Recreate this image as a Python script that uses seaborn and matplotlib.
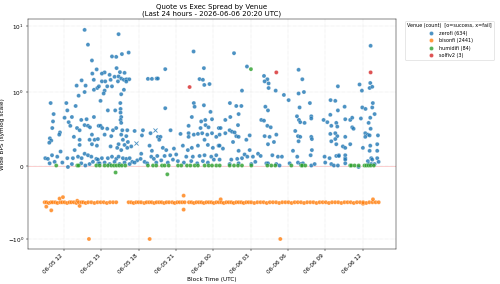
import numpy as np
import pandas as pd
import matplotlib
matplotlib.use("Agg")
import matplotlib.pyplot as plt
import matplotlib.dates as mdates
import seaborn as sns

# hours after 2026-06-05 00:00 UTC, wide spread in bps
START = pd.Timestamp("2026-06-05 00:00")

venues = ["zerofi", "bisonfi", "humidifi", "solfiv2"]
venue_counts = [634, 2441, 84, 3]
venue_colors = ["#1f77b4", "#ff7f0e", "#2ca02c", "#d62728"]

zerofi_ok = [
    (13.66, 8.7), (13.93, 5.2), (14.25, 3.0), (14.28, 1.9), (14.63, 2.2), (14.4, 1.53),
    (13.42, 1.5), (13.02, 1.25), (13.74, 1.25), (14.41, 1.08), (14.68, 1.15), (13.18, 0.95),
    (13.66, 1.0), (10.93, 0.85), (12.19, 0.85), (12.94, 0.81), (11.17, 0.70), (12.27, 0.75),
    (12.05, 0.65), (12.64, 0.66), (13.39, 0.62), (13.82, 0.63), (14.41, 0.66), (11.12, 0.60),
    (12.38, 0.59), (13.66, 0.55), (13.93, 0.54), (11.06, 0.51), (12.51, 0.54), (13.05, 0.51),
    (14.09, 0.52), (14.79, 0.54), (11.68, 0.45), (11.62, 0.42), (13.26, 0.48), (12.8, 0.39),
    (14.25, 0.42), (10.87, 0.37), (10.98, 0.34), (10.82, 0.31), (13.26, 0.35), (14.06, 0.35),
    (14.47, 0.35), (14.73, 0.36), (13.26, 0.28), (14.25, 0.29), (14.65, 0.27), (11.73, 0.19),
    (12.86, 0.21), (13.66, 0.16), (13.93, 0.14), (11.04, 0.14), (10.5, 0.10), (10.71, 0.09),
    (11.46, 0.12), (12.27, 0.10), (12.72, 0.10), (13.13, 0.12), (13.42, 0.10), (14.2, 0.12),
    (14.6, 0.09), (10.85, 0.03), (11.25, 0.05), (11.87, 0.04), (12.32, -0.02), (12.64, 0.02),
    (13.39, 0.03), (13.72, 0.0), (14.06, 0.02), (14.33, 0.05), (14.76, 0.03),
    (16.39, 7.5), (15.86, 3.45), (16.2, 3.4), (16.66, 3.75), (17.2, 3.95), (15.27, 1.98),
    (15.05, 1.9), (16.23, 2.3), (16.5, 2.0), (16.87, 1.95), (15.67, 1.82), (16.07, 1.7),
    (16.39, 1.72), (16.6, 1.6), (16.82, 1.53), (17.03, 1.56), (17.25, 1.56), (15.05, 1.45),
    (15.32, 1.45), (15.75, 1.53), (16.34, 1.45), (17.01, 1.44), (14.81, 1.22), (15.27, 1.05),
    (15.48, 1.22), (15.86, 1.22), (16.82, 1.08), (18.75, 1.58), (19.07, 1.58), (19.45, 1.6),
    (15.19, 0.98), (14.94, 0.88), (16.6, 0.97), (16.53, 0.85), (15.53, 0.75), (16.12, 0.75),
    (16.55, 0.77), (16.55, 0.72), (16.6, 0.66), (16.55, 0.62), (16.6, 0.58), (14.94, 0.54),
    (15.08, 0.51), (15.48, 0.5), (15.94, 0.48), (16.2, 0.51), (16.69, 0.48), (17.09, 0.48),
    (17.68, 0.47), (18.35, 0.48), (18.96, 0.44), (15.27, 0.42), (15.8, 0.4), (16.6, 0.42),
    (17.01, 0.4), (18.27, 0.41), (19.55, 0.39), (15.75, 0.26), (16.39, 0.29), (16.74, 0.35),
    (16.87, 0.28), (17.14, 0.32), (17.41, 0.26), (16.28, 0.24), (16.6, 0.21), (17.09, 0.24),
    (18.21, 0.16), (18.88, 0.27), (19.07, 0.2), (15.05, 0.1), (14.73, 0.08), (15.53, 0.1),
    (15.86, 0.12), (16.2, 0.09), (16.39, 0.12), (16.74, 0.1), (17.01, 0.09), (17.28, 0.1),
    (17.49, 0.05), (17.89, 0.07), (18.16, 0.09), (18.48, 0.05), (19.02, 0.12), (19.23, 0.09),
    (19.5, 0.13), (14.86, 0.03), (15.27, 0.04), (15.67, 0.02), (16.07, 0.05), (16.47, 0.02),
    (16.87, 0.04), (17.28, 0.02), (17.68, 0.04), (18.69, 0.03), (19.42, 0.04),
    (20.14, 2.22), (22.42, 4.1), (23.25, 2.3), (22.9, 1.57), (23.17, 1.53), (23.28, 1.28),
    (23.7, 1.32), (19.55, 1.6), (20.14, 0.78), (22.44, 0.85), (22.5, 0.8), (23.25, 0.82),
    (23.78, 0.73), (22.28, 0.66), (23.03, 0.6), (23.36, 0.62), (23.9, 0.63), (20.57, 0.48),
    (22.02, 0.54), (22.98, 0.51), (23.38, 0.55), (23.62, 0.52), (24.45, 0.51), (21.37, 0.43),
    (22.02, 0.44), (22.44, 0.42), (22.77, 0.43), (23.11, 0.44), (23.52, 0.42), (23.9, 0.44),
    (19.76, 0.39), (19.66, 0.35), (22.02, 0.39), (23.3, 0.35), (24.24, 0.39), (19.95, 0.24),
    (20.22, 0.21), (20.84, 0.23), (21.56, 0.27), (21.96, 0.21), (22.28, 0.24), (22.77, 0.27),
    (23.57, 0.28), (23.97, 0.24), (24.43, 0.27), (20.09, 0.13), (20.54, 0.14), (21.02, 0.15),
    (21.83, 0.12), (22.36, 0.12), (22.9, 0.13), (23.3, 0.14), (23.84, 0.12), (24.24, 0.14),
    (19.82, 0.07), (20.35, 0.04), (20.76, 0.08), (21.16, 0.06), (21.64, 0.04), (22.23, 0.06),
    (22.71, 0.03), (23.17, 0.06), (23.57, 0.04), (24.05, 0.08),
    (25.67, 3.87), (26.71, 2.43), (28.08, 1.75), (28.35, 1.56), (28.13, 1.45), (28.45, 1.35),
    (28.45, 1.15), (29.02, 1.05), (26.31, 1.05), (25.34, 0.85), (25.85, 0.81), (26.26, 0.81),
    (28.19, 0.80), (28.4, 0.75), (24.97, 0.62), (25.37, 0.66), (26.04, 0.70), (27.86, 0.62),
    (28.08, 0.61), (25.99, 0.55), (28.35, 0.54), (28.62, 0.52), (24.59, 0.51), (25.32, 0.48),
    (25.51, 0.46), (25.72, 0.45), (24.97, 0.44), (24.51, 0.42), (25.85, 0.40), (26.04, 0.39),
    (26.93, 0.41), (28.13, 0.40), (28.53, 0.39), (29.07, 0.42), (25.59, 0.32), (26.66, 0.35),
    (28.4, 0.29), (28.88, 0.32), (24.51, 0.27), (26.93, 0.21), (26.04, 0.2), (24.78, 0.23),
    (27.6, 0.16), (26.52, 0.15), (28.75, 0.14), (25.45, 0.08), (25.93, 0.09), (26.31, 0.10),
    (26.74, 0.12), (27.19, 0.12), (27.81, 0.13), (24.51, 0.08), (29.2, 0.12), (27.38, 0.05),
    (28.27, 0.03), (26.04, 0.03), (25.32, 0.02), (27.06, 0.02), (28.4, 0.03), (29.07, 0.02),
    (30.86, 2.17), (31.16, 1.56), (29.68, 0.96), (30.06, 0.89), (30.86, 0.98), (31.29, 1.0),
    (30.94, 0.79), (31.77, 0.85), (34.02, 1.22), (33.43, 0.89), (33.81, 0.88), (34.02, 0.75),
    (30.73, 0.67), (31.88, 0.67), (31.88, 0.64), (30.89, 0.62), (30.99, 0.59), (31.34, 0.58),
    (32.87, 0.62), (33.17, 0.59), (33.41, 0.69), (33.49, 0.54), (33.89, 0.58), (33.97, 0.53),
    (30.59, 0.47), (33.41, 0.43), (33.81, 0.44), (33.97, 0.40), (30.81, 0.40), (30.99, 0.39),
    (31.88, 0.39), (31.93, 0.36), (30.86, 0.33), (33.81, 0.36), (33.49, 0.33), (33.89, 0.29),
    (30.41, 0.2), (31.93, 0.21), (29.52, 0.12), (30.75, 0.12), (31.83, 0.14), (32.95, 0.12),
    (33.89, 0.13), (33.35, 0.10), (34.1, 0.14), (29.33, 0.0), (30.14, 0.03), (30.81, 0.04),
    (31.02, 0.02), (31.21, 0.03), (31.88, 0.0), (32.15, 0.02), (33.0, 0.04), (33.49, 0.02),
    (33.7, 0.0), (34.02, 0.0),
    (36.65, 5.0), (36.62, 1.37), (35.76, 1.3), (35.95, 1.05), (36.57, 1.15), (36.78, 1.2),
    (34.56, 0.8), (35.98, 0.79), (36.24, 0.77), (36.78, 0.79), (36.83, 0.85), (34.61, 0.63),
    (35.01, 0.62), (35.17, 0.65), (35.87, 0.64), (36.62, 0.65), (36.97, 0.70), (35.17, 0.52),
    (35.28, 0.5), (36.49, 0.58), (36.65, 0.5), (36.22, 0.44), (36.43, 0.42), (36.57, 0.41),
    (37.24, 0.41), (34.61, 0.39), (36.22, 0.39), (35.01, 0.29), (34.42, 0.26), (34.61, 0.24),
    (36.62, 0.27), (37.18, 0.29), (36.03, 0.24), (36.57, 0.2), (37.18, 0.2), (34.1, 0.13),
    (34.61, 0.14), (34.61, 0.1), (34.61, 0.08), (36.7, 0.1), (36.43, 0.06), (36.78, 0.08),
    (37.18, 0.1), (37.29, 0.05), (34.61, 0.03), (35.68, -0.02), (36.49, 0.02), (36.7, 0.02),
    (36.97, 0.02),
]
zerofi_fail = [(17.76, 0.31), (19.29, 0.49)]

bisonfi_ok = [
    (10.45, -0.5), (10.58, -0.56), (10.6, -0.5), (10.78, -0.51), (10.95, -0.5), (10.98, -0.61),
    (11.1, -0.5), (11.3, -0.5), (11.48, -0.51), (11.65, -0.45), (11.7, -0.5), (11.85, -0.5),
    (11.92, -0.43), (12.05, -0.5), (12.25, -0.51), (12.45, -0.5), (12.6, -0.5), (12.8, -0.5),
    (13.0, -0.51), (13.07, -0.48), (13.2, -0.5), (13.26, -0.55), (13.4, -0.5), (13.55, -0.5),
    (13.75, -0.51), (13.95, -0.5), (14.01, -1.0), (14.2, -0.5), (14.45, -0.51), (14.7, -0.5),
    (14.95, -0.5), (15.2, -0.5), (15.45, -0.51), (15.7, -0.5), (15.95, -0.5), (16.2, -0.5),
    (17.2, -0.5), (17.4, -0.5), (17.6, -0.51), (17.8, -0.5), (18.0, -0.5), (18.2, -0.5),
    (18.45, -0.51), (18.65, -0.5), (18.85, -0.5), (18.89, -1.0), (19.05, -0.5), (19.25, -0.51),
    (19.45, -0.5), (19.65, -0.5), (19.85, -0.5), (20.05, -0.51), (20.25, -0.5), (20.45, -0.5),
    (20.7, -0.5), (20.9, -0.51), (21.1, -0.5), (21.3, -0.5), (21.5, -0.5), (21.62, -0.41),
    (21.62, -0.60), (21.7, -0.5),
    (22.05, -0.5), (22.25, -0.5), (22.45, -0.51), (22.65, -0.5), (22.85, -0.5), (23.05, -0.5),
    (23.25, -0.51), (23.45, -0.5), (23.65, -0.5), (23.85, -0.5), (24.05, -0.51), (24.25, -0.5),
    (24.45, -0.5), (24.6, -0.46), (24.65, -0.5), (24.85, -0.51), (25.05, -0.5), (25.25, -0.5),
    (25.45, -0.5), (25.65, -0.51), (25.85, -0.5), (26.05, -0.5), (26.25, -0.5), (26.45, -0.51),
    (26.65, -0.5), (26.85, -0.5), (27.05, -0.5), (27.3, -0.51), (27.55, -0.5), (27.8, -0.5),
    (28.05, -0.5), (28.3, -0.51), (28.55, -0.5), (28.8, -0.5), (29.05, -0.5), (29.3, -0.51),
    (29.39, -1.0), (29.55, -0.5), (29.8, -0.5), (30.05, -0.5), (30.3, -0.51), (30.55, -0.5),
    (30.8, -0.5), (31.05, -0.5), (31.3, -0.51), (31.55, -0.5), (31.8, -0.5), (32.05, -0.5),
    (32.3, -0.51), (32.55, -0.5), (32.8, -0.5), (33.05, -0.5), (33.3, -0.51), (33.55, -0.5),
    (33.8, -0.5), (34.05, -0.5), (34.3, -0.51), (34.55, -0.5), (34.8, -0.5), (35.05, -0.5),
    (35.3, -0.51), (35.55, -0.5), (35.8, -0.5), (36.04, -0.52), (36.05, -0.5), (36.3, -0.51),
    (36.55, -0.5), (36.8, -0.5), (36.84, -0.46), (37.05, -0.5), (37.3, -0.5),
]

humidifi_ok = [
    (11.38, 0.0), (13.07, 0.0), (13.18, 0.0), (14.6, 0.0), (14.87, 0.0), (15.27, 0.0),
    (15.54, 0.0), (15.81, 0.0), (16.02, 0.0), (16.15, -0.095), (16.23, 0.0), (16.45, 0.0),
    (16.66, 0.0), (16.93, 0.0), (18.75, 0.0), (19.16, 0.0), (19.42, 0.0), (19.88, 0.0),
    (20.09, 0.0), (20.31, -0.12), (20.42, 0.0), (21.17, 0.0), (21.43, 0.0), (21.89, 0.0),
    (22.16, 0.0), (22.51, 0.0), (22.77, 0.0), (23.31, 0.0), (23.63, 0.0), (23.9, 0.0),
    (24.25, 0.0), (24.52, 0.0), (25.32, 0.0), (25.67, 0.0), (25.99, 0.0), (26.31, 0.0),
    (27.03, 2.22), (27.06, 0.0), (28.35, 0.0), (28.67, 0.0), (28.99, 0.0), (30.28, 0.0),
    (31.08, 0.0), (31.16, 0.0), (31.4, 0.0), (35.01, 0.0), (35.1, 0.0), (35.36, 0.0),
    (35.69, 0.0), (36.16, 0.0), (36.31, 0.0), (36.49, 0.0), (36.66, 0.0), (36.91, 0.0),
]

solfiv2_ok = [(22.1, 1.19), (29.07, 1.98), (36.65, 1.98)]


def to_frame(points, venue, count):
    hours = [p[0] for p in points]
    bps = [p[1] for p in points]
    return pd.DataFrame({
        "time": START + pd.to_timedelta(hours, unit="h"),
        "bps": bps,
        "label": f"{venue} ({count})",
    })


def main():
    ok_sets = [zerofi_ok, bisonfi_ok, humidifi_ok, solfiv2_ok]
    df = pd.concat([to_frame(p, v, c) for p, v, c in zip(ok_sets, venues, venue_counts)],
                   ignore_index=True)
    fails = to_frame(zerofi_fail, venues[0], venue_counts[0])
    labels = [f"{v} ({c})" for v, c in zip(venues, venue_counts)]

    dpi = 500 / 12
    fig, ax = plt.subplots(figsize=(12, 284 / dpi), dpi=dpi)
    ax.axhline(0, color="red", alpha=0.3, linewidth=1, zorder=1)
    sns.scatterplot(data=df, x="time", y="bps", hue="label", hue_order=labels,
                    palette=venue_colors, s=50, alpha=0.8, edgecolor="white",
                    linewidth=0.5, ax=ax, zorder=3)
    ax.scatter(fails["time"], fails["bps"], marker="x", s=50, color=venue_colors[0],
               alpha=0.8, linewidth=1.5, zorder=3)

    ax.set_yscale("symlog", linthresh=1)
    ax.set_ylim(-1.42, 12.7)
    ax.set_xlim(START + pd.Timedelta(hours=9.11), START + pd.Timedelta(hours=38.65))
    ax.xaxis.set_major_locator(mdates.HourLocator(interval=3))
    ax.xaxis.set_major_formatter(mdates.DateFormatter("%m-%d %H"))
    plt.setp(ax.get_xticklabels(), rotation=45, ha="right")
    ax.grid(True, linestyle=":", alpha=0.6)

    ax.set_title("Quote vs Exec Spread by Venue\n(Last 24 hours - 2026-06-06 20:20 UTC)",
                 fontsize=12)
    ax.set_xlabel("Block Time (UTC)")
    ax.set_ylabel("Wide BPS (symlog scale)")
    ax.legend(title="Venue (count)  [o=success, x=fail]", bbox_to_anchor=(1.02, 1),
              loc="upper left", fontsize="small", title_fontsize="small")

    fig.subplots_adjust(left=0.056, right=0.791, top=0.933, bottom=0.123)
    plt.savefig("out.png", dpi=dpi)


if __name__ == "__main__":
    main()
